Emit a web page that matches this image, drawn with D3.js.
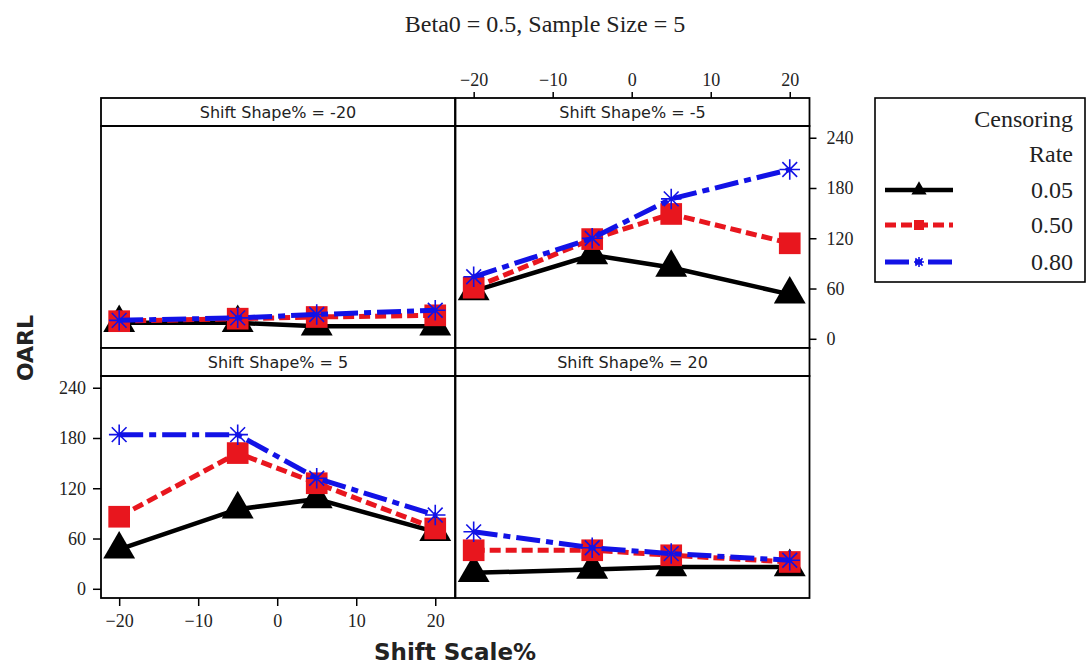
<!DOCTYPE html>
<html>
<head>
<meta charset="utf-8">
<script src="https://cdn.jsdelivr.net/npm/d3@7"></script>
<style>
  body { margin: 0; background: #fff; }
  svg { display: block; }
</style>
</head>
<body>
<div id="chart"></div>
<script>
// Shift scale % on the x axis, one panel per shift shape %
var shiftScale = [-20, -5, 5, 20];
var shapeShifts = [-20, -5, 5, 20];
var rateLabels = ["0.05", "0.50", "0.80"];
var xTicks = [-20, -10, 0, 10, 20];
var yTicks = [0, 60, 120, 180, 240];

// OARL per panel: rows are censoring rate 0.05, 0.50, 0.80
var shapeM20 = [[19, 19, 15, 15], [21, 24, 26, 28], [22, 25, 29, 34]];
var shapeM5  = [[57, 100, 85, 53], [61, 119, 149, 114], [74, 120, 167, 202]];
var shape5   = [[47, 95, 107, 68], [86, 162, 126, 72], [184, 184, 132, 88]];
var shape20  = [[19, 23, 26, 26], [46, 46, 40, 32], [68, 49, 42, 34]];
var panelData = [shapeM20, shapeM5, shape5, shape20];

var colors = ["#000000", "#e8161e", "#1212e6"];
var dashes = [null, "11,5", "24,6,7,6"];
var widths = [4.5, 5, 5];

var svgWidth = 1089, svgHeight = 666;
var svg = d3.select("#chart").append("svg")
  .attr("width", svgWidth)
  .attr("height", svgHeight);

// panel grid
var colX = [101, 455.5];
var panelW = 354;
var rowY = [98, 348];
var stripH = 28;
var plotH = 222;

var xScale = d3.scaleLinear().domain([-22.3, 22.5]).range([0, panelW]);
var yScale = d3.scaleLinear().domain([-11, 254]).range([plotH, 0]);

// asterisk marker for the 0.80 series
var asterisk = {
  draw: function(ctx, size) {
    var r = Math.sqrt(size) / 2;
    var d = r * 0.72;
    ctx.moveTo(-r, 0); ctx.lineTo(r, 0);
    ctx.moveTo(0, -r); ctx.lineTo(0, r);
    ctx.moveTo(-d, -d); ctx.lineTo(d, d);
    ctx.moveTo(-d, d); ctx.lineTo(d, -d);
  }
};
var symbolTypes = [d3.symbolTriangle, d3.symbolSquare, asterisk];
var symbolSizes = [440, 470, 420];

var line = d3.line()
  .x(function(d, i) { return xScale(shiftScale[i]); })
  .y(function(d) { return yScale(d); });

function drawMarker(g, k, x, y, size) {
  var p = g.append("path")
    .attr("d", d3.symbol().type(symbolTypes[k]).size(size)())
    .attr("transform", "translate(" + x + "," + y + ")");
  if (k === 2) {
    p.attr("fill", "none").attr("stroke", colors[k]).attr("stroke-width", 1.6);
  } else {
    p.attr("fill", colors[k]);
  }
}

shapeShifts.forEach(function(shape, p) {
  var col = p % 2, row = Math.floor(p / 2);
  var g = svg.append("g")
    .attr("transform", "translate(" + colX[col] + "," + rowY[row] + ")");

  // strip
  g.append("rect")
    .attr("width", panelW).attr("height", stripH)
    .attr("fill", "#fff").attr("stroke", "#000").attr("stroke-width", 1.8);
  g.append("text")
    .attr("x", panelW / 2).attr("y", stripH / 2 + 6)
    .attr("text-anchor", "middle")
    .style("font-family", "'DejaVu Sans', sans-serif")
    .style("font-size", "16px")
    .attr("fill", "#222")
    .text("Shift Shape% = " + shape);

  var plot = g.append("g").attr("transform", "translate(0," + stripH + ")");

  // series lines and markers
  panelData[p].forEach(function(vals, k) {
    var path = plot.append("path")
      .datum(vals)
      .attr("d", line)
      .attr("fill", "none")
      .attr("stroke", colors[k])
      .attr("stroke-width", widths[k]);
    if (dashes[k]) path.attr("stroke-dasharray", dashes[k]);
    vals.forEach(function(v, i) {
      drawMarker(plot, k, xScale(shiftScale[i]), yScale(v), symbolSizes[k]);
    });
  });

  plot.append("rect")
    .attr("width", panelW).attr("height", plotH)
    .attr("fill", "none").attr("stroke", "#000").attr("stroke-width", 1.8);

  // axes, alternating like the original
  var axis = null, axG = plot.append("g");
  if (p === 1) {
    axis = d3.axisTop(xScale).tickValues(xTicks).tickSize(6).tickPadding(6);
    axG.attr("transform", "translate(0," + (-stripH) + ")");
  } else if (p === 2) {
    axis = d3.axisBottom(xScale).tickValues(xTicks).tickSize(8).tickPadding(8);
    axG.attr("transform", "translate(0," + plotH + ")");
  }
  if (axis) axG.call(axis.tickSizeOuter(0));
  var ayG = plot.append("g"), yAxis = null;
  if (p === 1) {
    yAxis = d3.axisRight(yScale).tickValues(yTicks).tickSize(7).tickPadding(10);
    ayG.attr("transform", "translate(" + panelW + ",0)");
  } else if (p === 2) {
    yAxis = d3.axisLeft(yScale).tickValues(yTicks).tickSize(8).tickPadding(7);
  }
  if (yAxis) ayG.call(yAxis.tickSizeOuter(0));
  [axG, ayG].forEach(function(a) {
    a.select(".domain").remove();
    a.selectAll(".tick line").attr("stroke", "#000").attr("stroke-width", 1.5);
    a.selectAll(".tick text")
      .attr("fill", "#222")
      .style("font-family", "'Liberation Serif', serif")
      .style("font-size", "18px");
  });
});

// titles
svg.append("text")
  .attr("x", 545).attr("y", 32)
  .attr("text-anchor", "middle")
  .style("font-family", "'Liberation Serif', serif")
  .style("font-size", "24px")
  .attr("fill", "#222")
  .text("Beta0 = 0.5, Sample Size = 5");

svg.append("text")
  .attr("x", 455).attr("y", 660)
  .attr("text-anchor", "middle")
  .style("font-family", "'DejaVu Sans', sans-serif")
  .style("font-weight", "bold")
  .style("font-size", "23px")
  .attr("fill", "#222")
  .text("Shift Scale%");

svg.append("text")
  .attr("transform", "translate(33,348) rotate(-90)")
  .attr("text-anchor", "middle")
  .style("font-family", "'DejaVu Sans', sans-serif")
  .style("font-weight", "bold")
  .style("font-size", "22px")
  .attr("fill", "#222")
  .text("OARL");

// legend
var legend = svg.append("g");
legend.append("rect")
  .attr("x", 875).attr("y", 98).attr("width", 210).attr("height", 184)
  .attr("fill", "#fff").attr("stroke", "#000").attr("stroke-width", 1.6);
var legendFont = function(sel) {
  sel.attr("text-anchor", "end")
    .style("font-family", "'Liberation Serif', serif")
    .style("font-size", "24px")
    .attr("fill", "#222");
};
legend.append("text").attr("x", 1073).attr("y", 127).text("Censoring").call(legendFont);
legend.append("text").attr("x", 1073).attr("y", 162).text("Rate").call(legendFont);
var legendY = [190, 225, 262];
rateLabels.forEach(function(lbl, k) {
  var ly = legendY[k];
  var l = legend.append("line")
    .attr("x1", 885).attr("x2", 953).attr("y1", ly).attr("y2", ly)
    .attr("stroke", colors[k]).attr("stroke-width", widths[k]);
  if (dashes[k]) l.attr("stroke-dasharray", dashes[k]);
  drawMarker(legend, k, 919, ly, 100);
  legend.append("text").attr("x", 1073).attr("y", ly + 8).text(lbl).call(legendFont);
});
</script>
</body>
</html>
